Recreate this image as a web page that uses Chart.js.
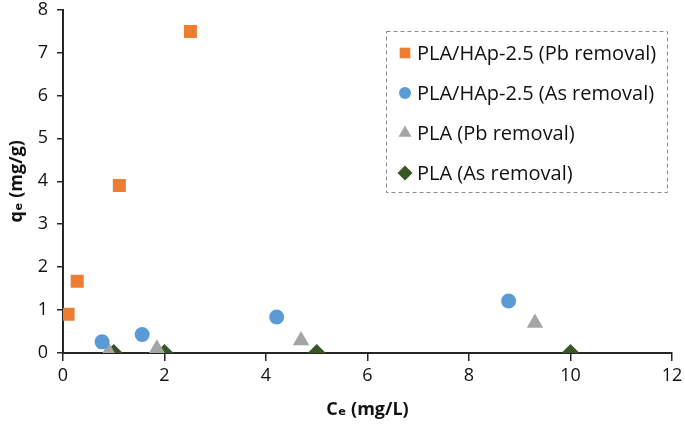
<!DOCTYPE html>
<html>
<head>
<meta charset="utf-8">
<script src="https://cdn.jsdelivr.net/npm/chart.js@4"></script>
<style>
  html, body { margin: 0; padding: 0; background: #fff; }
  #wrap { width: 685px; height: 429px; }
</style>
</head>
<body>
<div id="wrap"><canvas id="myChart"></canvas></div>
<script>
// values (Ce in mg/L, qe in mg/g)
const hapPbX = [0.1, 0.28, 1.11, 2.51];
const hapPbY = [0.9, 1.67, 3.9, 7.49];
const hapAsX = [0.77, 1.56, 4.21, 8.78];
const hapAsY = [0.26, 0.43, 0.84, 1.21];
const plaPbX = [0.9, 1.85, 4.69, 9.3];
const plaPbY = [0.03, 0.1, 0.29, 0.7];
const plaAsX = [1, 2, 5, 10];
const plaAsY = [0, 0, 0, 0];

const seriesLabels = ['PLA/HAp-2.5 (Pb removal)', 'PLA/HAp-2.5 (As removal)', 'PLA (Pb removal)', 'PLA (As removal)'];
const xTicks = [0, 2, 4, 6, 8, 10, 12];
const yTicks = [0, 1, 2, 3, 4, 5, 6, 7, 8];

const FONT = "'Open Sans', 'DejaVu Sans', sans-serif";
const axisColor = '#262626';

function pts(xs, ys) {
    return xs.map((x, i) => ({x: x, y: ys[i]}));
}

// dashed legend box drawn inside the plot
const boxLegend = {
    id: 'boxLegend',
    afterDraw(chart) {
        const ctx = chart.ctx;
        const left = 386, top = 31, w = 281, h = 161;
        ctx.save();
        ctx.setLineDash([4, 3]);
        ctx.strokeStyle = '#8c8c8c';
        ctx.lineWidth = 1;
        ctx.strokeRect(left + 0.5, top + 0.5, w, h);
        ctx.setLineDash([]);
        ctx.font = '20px ' + FONT;
        ctx.textBaseline = 'middle';
        chart.data.datasets.forEach((ds, i) => {
            const y = 53 + i * 40;
            ctx.fillStyle = ds.backgroundColor;
            ctx.strokeStyle = ds.backgroundColor;
            Chart.helpers.drawPoint(ctx, {
                pointStyle: ds.pointStyle,
                radius: ds.pointStyle === 'circle' ? 6 : 7.5,
                borderWidth: 0
            }, 405, y);
            ctx.fillStyle = '#111';
            ctx.fillText(ds.label, 417, y + 1);
        });
        ctx.restore();
    }
};

const ctx = document.getElementById('myChart');
const myChart = new Chart(ctx, {
    type: 'scatter',
    data: {
        datasets: [
            {
                label: seriesLabels[0],
                data: pts(hapPbX, hapPbY),
                pointStyle: 'rect',
                pointRadius: 9.2,
                backgroundColor: '#ED7D31',
                borderColor: '#ED7D31',
                borderWidth: 0
            },
            {
                label: seriesLabels[1],
                data: pts(hapAsX, hapAsY),
                pointStyle: 'circle',
                pointRadius: 7.5,
                backgroundColor: '#5B9BD5',
                borderColor: '#5B9BD5',
                borderWidth: 0
            },
            {
                label: seriesLabels[2],
                data: pts(plaPbX, plaPbY),
                pointStyle: 'triangle',
                pointRadius: 9.5,
                backgroundColor: '#A5A5A5',
                borderColor: '#A5A5A5',
                borderWidth: 0
            },
            {
                label: seriesLabels[3],
                data: pts(plaAsX, plaAsY),
                pointStyle: 'rectRot',
                pointRadius: 9,
                backgroundColor: '#375623',
                borderColor: '#375623',
                borderWidth: 0
            }
        ]
    },
    options: {
        responsive: true,
        maintainAspectRatio: false,
        animation: false,
        layout: { padding: { top: 8, right: 13, left: 0, bottom: 0 } },
        scales: {
            x: {
                type: 'linear',
                min: 0,
                max: 12,
                afterFit: s => { s.height = 76; s.paddingLeft = 0; s.paddingRight = 0; },
                afterBuildTicks: s => { s.ticks = xTicks.map(v => ({value: v})); },
                grid: { display: true, drawOnChartArea: false, drawTicks: true, tickLength: 8, color: axisColor, lineWidth: 1.5 },
                border: { display: true, color: axisColor, width: 2 },
                ticks: { color: '#111', padding: 4, font: { family: FONT, size: 18 } },
                title: {
                    display: true,
                    text: 'Cₑ (mg/L)',
                    color: '#111',
                    padding: { top: 0, bottom: 8 },
                    font: { family: FONT, size: 18, weight: 'bold' }
                }
            },
            y: {
                type: 'linear',
                min: 0,
                max: 8,
                afterFit: s => { s.width = 63; s.paddingTop = 0; s.paddingBottom = 0; },
                afterBuildTicks: s => { s.ticks = yTicks.map(v => ({value: v})); },
                grid: { display: true, drawOnChartArea: false, drawTicks: true, tickLength: 6, color: axisColor, lineWidth: 1.5 },
                border: { display: true, color: axisColor, width: 2 },
                ticks: { color: '#111', padding: 9, font: { family: FONT, size: 18 } },
                title: {
                    display: true,
                    text: 'qₑ (mg/g)',
                    color: '#111',
                    padding: { top: 6, bottom: 0 },
                    font: { family: FONT, size: 18, weight: 'bold' }
                }
            }
        },
        plugins: {
            legend: { display: false },
            tooltip: { enabled: false }
        }
    },
    plugins: [boxLegend]
});
</script>
</body>
</html>
